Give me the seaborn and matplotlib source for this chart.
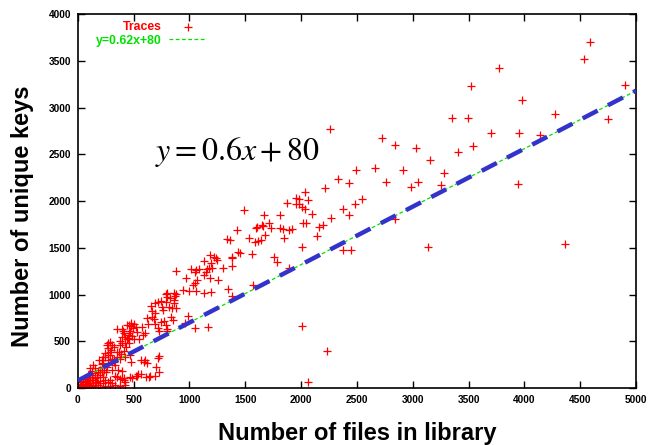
import numpy as np
import pandas as pd
import matplotlib
matplotlib.use('Agg')
import matplotlib.pyplot as plt
import seaborn as sns

# number of files per trace (x) and unique keys seen (y)
files = [
    4588, 4534, 3772, 3521, 4901, 3978, 3351, 3494, 4274, 4749, 3700, 3951, 4140, 3539, 3405, 3154, 3279, 3252, 3942, 4364, 3136,
    2258, 2724, 2840, 3028, 2491, 2661, 2912, 2330, 2428, 2760, 3046, 2984, 2213, 2034, 1953, 1980, 2061, 1873, 1953, 1980, 2007, 2034,
    2545, 2482, 2374, 2428, 2097, 2267, 1810, 2016, 2043, 2195, 2159, 2141, 1810, 1837, 1917, 1891, 1846, 2007, 2374, 2446, 2840, 1891,
    1667, 1711, 1729, 1649, 1595, 1676, 1586, 1613, 1640, 1559, 1756, 1783, 1568, 1487, 1658, 1425, 1532, 1335, 1362, 1434, 1452, 1380,
    1183, 1219, 1236, 1245, 1299, 1380, 1129, 1156, 1174, 1201, 1192, 1147, 1084, 1057, 1048, 1012, 878, 968, 1066, 1048, 1030, 1129, 1183, 1254,
    941, 995, 1057, 1129, 1192, 878, 869, 1344, 1380, 824, 1604, 1380,
    797, 788, 797, 860, 788, 717, 690, 744, 753, 654, 663, 690, 762, 815, 842, 878, 833, 986, 618, 663, 681, 690, 744, 788, 771,
    502, 493, 457, 520, 475, 394, 412, 457, 439, 421, 582, 547, 502, 484, 349, 287, 305, 269, 269, 296, 376, 394, 349, 385, 412, 430,
    242, 242, 269, 287, 305, 323, 215, 215, 332, 358, 305, 349, 376, 332, 412, 591, 618, 600, 564, 717, 520, 538, 609, 636, 690, 726,
    1048, 1165, 959, 851, 860, 860, 2007, 2231, 2061,
    726, 627, 717, 797, 797, 529, 573, 600, 475, 439, 466, 448, 403, 394, 376, 421, 457, 457, 367, 323, 260, 287, 269, 224, 224, 215, 188,
    349, 323, 376, 421, 466, 475, 699, 726, 645, 394, 412, 287, 305, 394, 466, 484, 564, 529, 421, 215, 152, 108, 134,
    152, 197, 170, 125, 108, 90, 63, 36, 224, 242, 269, 224, 179, 152,
    18, 63, 90, 125, 152, 197, 179, 251, 260, 233, 45, 9, 81, 134, 197, 287, 242, 376, 421, 332,
    30, 50, 70, 100, 40, 20, 110, 80, 60, 140, 160, 200, 180, 120, 100, 130, 90, 70, 50, 30,
]
keys = [
    3702, 3520, 3424, 3231, 3242, 3082, 2889, 2889, 2932, 2878, 2729, 2729, 2707, 2589, 2525, 2440, 2300, 2172, 2183, 1541, 1509,
    2771, 2675, 2600, 2568, 2333, 2354, 2333, 2236, 2194, 2204, 2204, 2151, 2140, 2097, 2033, 2022, 2012, 1980, 1969, 1969, 1937, 1915,
    2022, 1969, 1915, 1851, 1862, 1819, 1851, 1766, 1766, 1744, 1723, 1626, 1712, 1701, 1701, 1691, 1605, 1509, 1477, 1477, 1808, 1284,
    1851, 1766, 1712, 1744, 1712, 1637, 1562, 1573, 1584, 1434, 1402, 1348, 1102, 1905, 1733, 1691, 1605, 1594, 1584, 1455, 1445, 1391,
    1423, 1402, 1391, 1370, 1284, 1305, 1359, 1273, 1284, 1284, 1338, 1241, 1273, 1263, 1241, 1273, 1252, 1177, 1156, 1124, 1102, 1209, 1177, 1156,
    1049, 1038, 1038, 1017, 1027, 1006, 984, 1059, 984, 963, 1723, 1402,
    1017, 1006, 974, 942, 920, 920, 910, 931, 867, 877, 824, 803, 835, 867, 856, 856, 760, 770, 749, 760, 738, 685, 706, 674, 717,
    685, 642, 674, 653, 663, 631, 589, 589, 524, 546, 567, 524, 524, 556, 631, 492, 460, 482, 428, 407, 460, 482, 385, 364, 396, 439,
    375, 332, 300, 353, 310, 278, 300, 257, 246, 193, 193, 118, 96, 128, 107, 278, 268, 300, 300, 321, 128, 150, 118, 118, 128, 171,
    642, 653, 696, 728, 1017, 910, 663, 396, 64,
    610, 685, 642, 631, 610, 599, 653, 589, 696, 674, 610, 535, 610, 546, 503, 482, 567, 482, 385, 439, 460, 385, 353, 332, 268, 225, 300,
    332, 310, 310, 332, 353, 278, 225, 342, 128, 107, 86, 86, 54, 182, 118, 107, 150, 128, 64, 171, 160, 214, 246,
    214, 193, 118, 86, 54, 11, 5, 3, 118, 86, 64, 54, 54, 32,
    32, 43, 86, 139, 107, 139, 171, 171, 225, 193, 11, 2, 43, 21, 11, 21, 21, 21, 32, 32,
    40, 60, 30, 50, 20, 10, 120, 70, 100, 90, 60, 80, 30, 20, 150, 180, 140, 110, 80, 60,
]

fit_slope = 0.62
fit_intercept = 80
fit_label = 'y=0.62x+80'
x_ticks = list(range(0, 5001, 500))
y_ticks = list(range(0, 4001, 500))

sns.set_style('ticks')
plt.rcParams['font.family'] = ['Liberation Sans', 'DejaVu Sans']
plt.rcParams['mathtext.fontset'] = 'stix'
for key in ['text.color', 'axes.labelcolor', 'xtick.color', 'ytick.color', 'axes.edgecolor']:
    plt.rcParams[key] = 'black'

df = pd.DataFrame({'files': files, 'keys': keys})
fit_x = np.array([0, 5000])
fit_df = pd.DataFrame({'files': fit_x, 'keys': fit_slope * fit_x + fit_intercept})

fig = plt.figure(figsize=(6.54, 4.45), dpi=100)
ax = fig.add_axes([0.119, 0.128, 0.8535, 0.8405])

sns.scatterplot(data=df, x='files', y='keys', marker='+', color='red',
                s=36, linewidth=0.9, label='Traces', ax=ax, zorder=2)
sns.lineplot(data=fit_df, x='files', y='keys', color='#00e000', lw=0.9,
             linestyle=(0, (3, 2)), label=fit_label, ax=ax, zorder=3)
sns.lineplot(data=fit_df, x='files', y='keys', color='#3333cc', lw=3.2,
             linestyle=(0, (3.8, 2.6)), ax=ax, zorder=4)

ax.text(1425, 2525, r'$y=0.6x+80$', fontsize=23, ha='center', va='center')

handles, labels = ax.get_legend_handles_labels()
ax.legend(handles, labels, loc='upper left', bbox_to_anchor=(0.033, 0.98),
          frameon=False, markerfirst=False, labelcolor=['red', '#00e000'],
          prop={'weight': 'bold', 'size': 8.8}, handlelength=3.0,
          handletextpad=0.6, labelspacing=0.1, borderaxespad=0, borderpad=0)

ax.set_xlim(0, 5000)
ax.set_ylim(0, 4000)
ax.set_xticks(x_ticks)
ax.set_yticks(y_ticks)
ax.tick_params(direction='in', length=5, width=1, top=True, right=True,
               labelsize=7.3, pad=5)
plt.setp(ax.get_xticklabels() + ax.get_yticklabels(), fontweight='bold')
for sp in ax.spines.values():
    sp.set_linewidth(1.2)

ax.set_xlabel('Number of files in library', fontsize=17, fontweight='bold', labelpad=12)
ax.set_ylabel('Number of unique keys', fontsize=17, fontweight='bold')
ax.yaxis.set_label_coords(-0.078, 0.46)

fig.savefig('out.png', dpi=100)
